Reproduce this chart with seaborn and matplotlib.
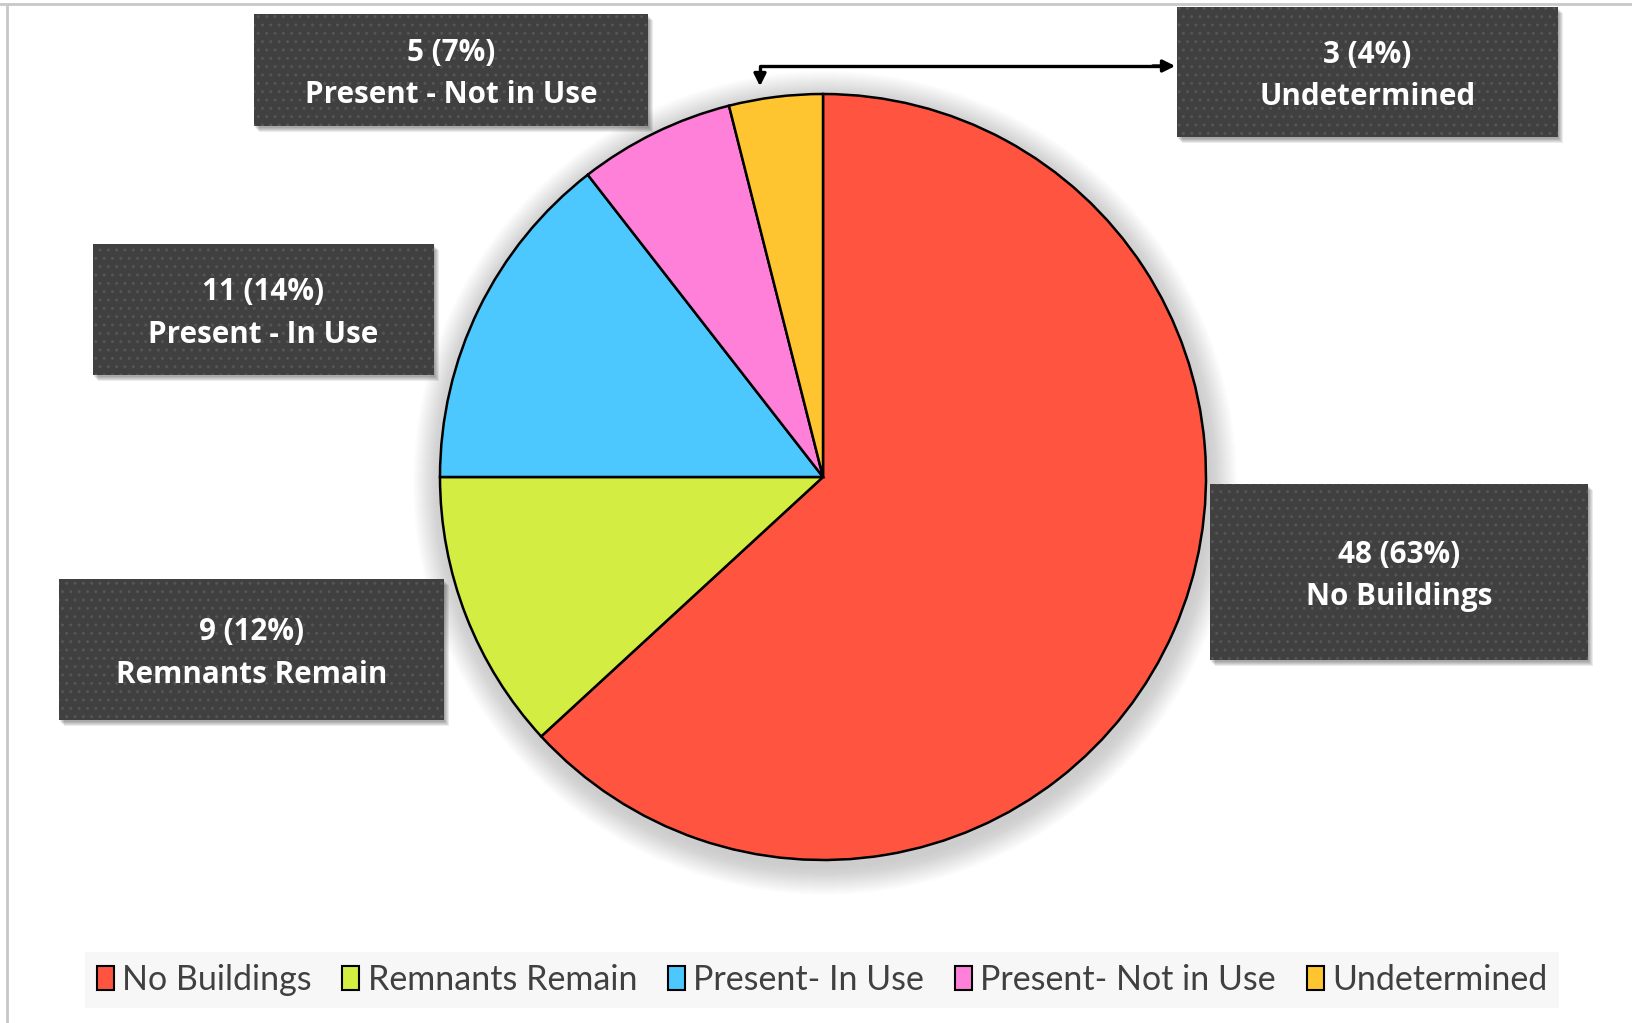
# -*- coding: utf-8 -*-
"""
Pie chart of building status counts, with callout boxes
"""

import numpy as np
import seaborn as sns
import matplotlib.pyplot as plt
from matplotlib.patches import Rectangle, Circle

# Data
categories = ['No Buildings', 'Remnants Remain', 'Present- In Use', 'Present- Not in Use', 'Undetermined']
box_names = ['No Buildings', 'Remnants Remain', 'Present - In Use', 'Present - Not in Use', 'Undetermined']
counts = [48, 9, 11, 5, 3]
colors = ['#FF5540', '#D4ED42', '#4CC8FF', '#FF80D9', '#FFC530']

total = sum(counts)

sns.set_theme(style='white')
plt.rcParams['font.family'] = ['Lato', 'DejaVu Sans']

W, H = 1632, 1023
fig = plt.figure(figsize=(W / 100, H / 100), dpi=100)
ax = fig.add_axes([0, 0, 1, 1])
ax.set_xlim(0, W)
ax.set_ylim(H, 0)
ax.set_aspect('equal')
ax.axis('off')

cx, cy, r = 823, 477, 383

# soft halo behind the pie
for k in range(1, 30):
    ax.add_patch(Circle((cx + 2, cy + 6), r + k, color='#808080', alpha=0.013, lw=0, zorder=1))

wedges, _ = ax.pie(counts, colors=colors, center=(cx, cy), radius=r, startangle=-90,
                   counterclock=True, frame=True,
                   wedgeprops=dict(edgecolor='black', linewidth=1.8))
for w in wedges:
    w.set_zorder(3)
ax.set_xlim(0, W)
ax.set_ylim(H, 0)
ax.axis('off')

# callout boxes (x0, y0, x1, y1) in pixels
boxes = [(1210, 484, 1588, 660), (59, 579, 444, 720), (93, 244, 434, 375),
         (254, 14, 648, 126), (1177, 7, 1558, 137)]

for (x0, y0, x1, y1), n, name in zip(boxes, counts, box_names):
    for s in range(1, 6):
        ax.add_patch(Rectangle((x0 + s, y0 + s + 1), x1 - x0, y1 - y0, color='#000000',
                               alpha=0.08, lw=0, zorder=4))
    ax.add_patch(Rectangle((x0, y0), x1 - x0, y1 - y0, facecolor='#404040', lw=0, zorder=5))
    ax.add_patch(Rectangle((x0, y0), x1 - x0, y1 - y0, fill=False, hatch='..',
                           edgecolor='#555555', lw=0, zorder=5))
    ax.text((x0 + x1) / 2, (y0 + y1) / 2 + 4, f'{n} ({n / total:.0%})\n{name}', color='white',
            fontsize=21.3, fontweight='bold', ha='center', va='center', linespacing=1.53,
            family=['Open Sans', 'DejaVu Sans'], zorder=6)

# leader line to the small slice
ax.plot([760, 760, 1168], [76, 66, 66], color='black', lw=2.4, zorder=6)
ax.annotate('', xy=(760, 89), xytext=(760, 70),
            arrowprops=dict(arrowstyle='-|>', color='black', lw=2.4, mutation_scale=18), zorder=6)
ax.annotate('', xy=(1178, 66), xytext=(1150, 66),
            arrowprops=dict(arrowstyle='-|>', color='black', lw=2.4, mutation_scale=18), zorder=6)

# frame lines
ax.plot([0, W], [4, 4], color='#c8c8c8', lw=2, zorder=2)
ax.plot([7, 7], [4, H], color='#c8c8c8', lw=2, zorder=2)

# legend
leg = ax.legend(wedges, categories, ncol=5, loc='center',
                bbox_to_anchor=(822 / W, 43 / H), bbox_transform=fig.transFigure,
                frameon=True, facecolor='#f7f7f7', edgecolor='none', fancybox=False,
                fontsize=24.5, handlelength=0.5, handleheight=0.7, handletextpad=0.25,
                columnspacing=0.9, borderpad=0.35)
leg.get_frame().set_alpha(1)
for t in leg.get_texts():
    t.set_color('#404040')
for h in leg.legend_handles:
    h.set_linewidth(1.5)

fig.savefig('out.png', dpi=100, facecolor='white')
